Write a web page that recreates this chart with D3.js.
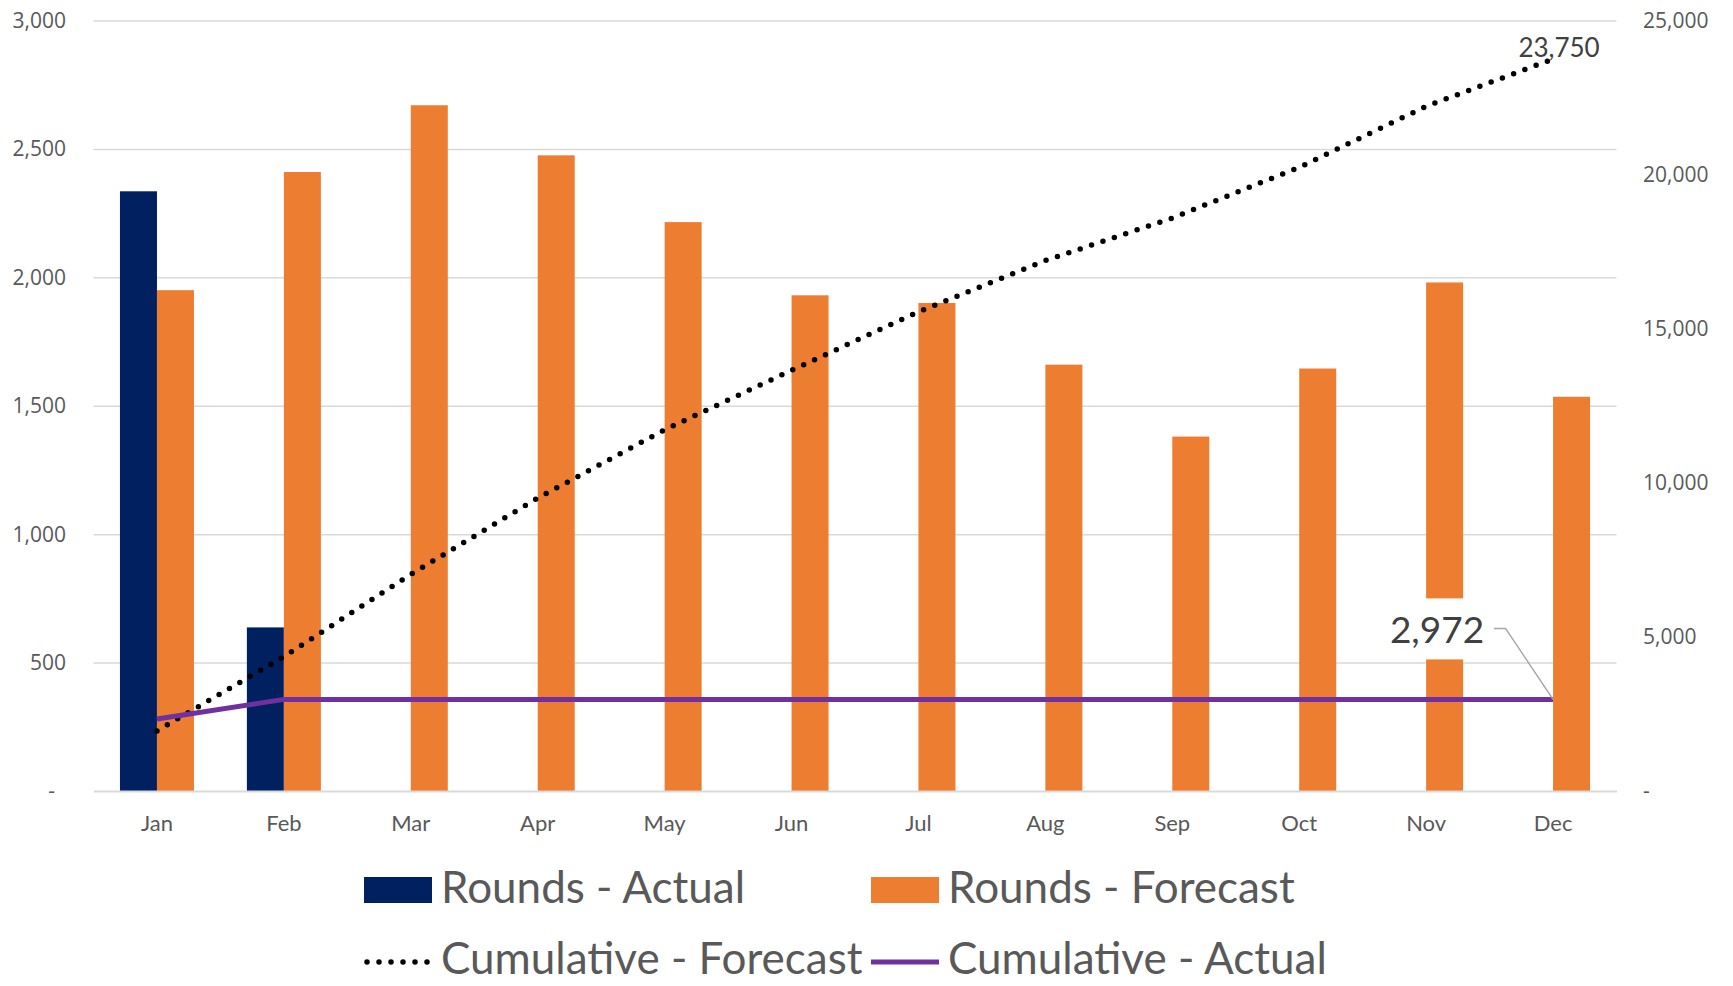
<!DOCTYPE html>
<html>
<head>
<meta charset="utf-8">
<script src="https://cdn.jsdelivr.net/npm/d3@7"></script>
<style>
  html, body { margin: 0; padding: 0; background: #ffffff; }
  svg { display: block; }
</style>
</head>
<body>
<svg id="chart" width="1733" height="986"></svg>
<script>
// Monthly rounds: actual vs forecast, with cumulative totals on the secondary axis
const months = ["Jan", "Feb", "Mar", "Apr", "May", "Jun", "Jul", "Aug", "Sep", "Oct", "Nov", "Dec"];
const roundsActual = [2335, 637, null, null, null, null, null, null, null, null, null, null];
const roundsForecast = [1950, 2410, 2670, 2475, 2215, 1930, 1900, 1660, 1380, 1645, 1980, 1535];
const cumulativeForecast = [1950, 4360, 7030, 9505, 11720, 13650, 15550, 17210, 18590, 20235, 22215, 23750];
const cumulativeActual = [2335, 2972, 2972, 2972, 2972, 2972, 2972, 2972, 2972, 2972, 2972, 2972];
const leftTicks = [0, 500, 1000, 1500, 2000, 2500, 3000];
const rightTicks = [0, 5000, 10000, 15000, 20000, 25000];
const legendItems = ["Rounds - Actual", "Rounds - Forecast", "Cumulative - Forecast", "Cumulative - Actual"];

const colors = {
  actual: "#002060",
  forecast: "#ED7D31",
  cumForecast: "#000000",
  cumActual: "#7030A0",
  grid: "#D9D9D9",
  axisText: "#595959",
  label: "#404040"
};

const plot = { left: 93.5, right: 1616.5, top: 20.5, bottom: 791 };
const svg = d3.select("#chart");

const x = d3.scaleBand().domain(months).range([plot.left, plot.right]).paddingInner(0).paddingOuter(0);
const xSub = d3.scaleBand().domain(["actual", "forecast"]).range([0, x.bandwidth()]).paddingInner(0).paddingOuter(0.715);
const yLeft = d3.scaleLinear().domain([0, 3000]).range([plot.bottom, plot.top]);
const yRight = d3.scaleLinear().domain([0, 25000]).range([plot.bottom, plot.top]);
const xc = m => x(m) + x.bandwidth() / 2;

const fmt = d3.format(",");
const tickFmt = v => v === 0 ? "-" : fmt(v);

// Horizontal gridlines
const grid = svg.append("g")
  .attr("transform", `translate(${plot.left},0)`)
  .call(d3.axisLeft(yLeft).tickValues(leftTicks.filter(v => v !== 0)).tickSize(-(plot.right - plot.left)).tickFormat(""));
grid.select(".domain").remove();
grid.selectAll("line").attr("stroke", colors.grid).attr("stroke-width", 1.5);

// Left axis labels
const axL = svg.append("g")
  .attr("transform", "translate(66,0)")
  .call(d3.axisLeft(yLeft).tickValues(leftTicks).tickSize(0).tickPadding(0).tickFormat(tickFmt));
axL.select(".domain").remove();
axL.selectAll("text")
  .attr("fill", colors.axisText)
  .style("font-family", "'Open Sans', sans-serif")
  .style("font-size", "21px")
  .attr("dy", "0.33em")
  .attr("x", d => d === 0 ? -11 : 0);

// Right axis labels
const axR = svg.append("g")
  .attr("transform", "translate(1643,0)")
  .call(d3.axisRight(yRight).tickValues(rightTicks).tickSize(0).tickPadding(0).tickFormat(tickFmt));
axR.select(".domain").remove();
axR.selectAll("text")
  .attr("fill", colors.axisText)
  .style("font-family", "'Open Sans', sans-serif")
  .style("font-size", "21px")
  .attr("dy", "0.33em");

// Bars
svg.append("g").selectAll("rect")
  .data(months.map((m, i) => ({ m, v: roundsActual[i] })).filter(d => d.v != null))
  .join("rect")
  .attr("x", d => x(d.m) + xSub("actual"))
  .attr("width", xSub.bandwidth())
  .attr("y", d => yLeft(d.v))
  .attr("height", d => yLeft(0) - yLeft(d.v))
  .attr("fill", colors.actual);

svg.append("g").selectAll("rect")
  .data(months.map((m, i) => ({ m, v: roundsForecast[i] })))
  .join("rect")
  .attr("x", d => x(d.m) + xSub("forecast"))
  .attr("width", xSub.bandwidth())
  .attr("y", d => yLeft(d.v))
  .attr("height", d => yLeft(0) - yLeft(d.v))
  .attr("fill", colors.forecast);

// Category axis
const axB = svg.append("g")
  .attr("transform", `translate(0,${plot.bottom})`)
  .call(d3.axisBottom(x).tickSize(0).tickPadding(0));
axB.select(".domain").attr("stroke", colors.grid).attr("stroke-width", 2);
axB.selectAll("text")
  .attr("fill", colors.axisText)
  .attr("y", 40)
  .attr("dy", "0")
  .style("font-family", "Lato, sans-serif")
  .style("font-size", "22px");

// Cumulative lines
const lineR = d3.line().x((d, i) => xc(months[i])).y(d => yRight(d));

svg.append("path")
  .datum(cumulativeForecast)
  .attr("d", lineR)
  .attr("fill", "none")
  .attr("stroke", colors.cumForecast)
  .attr("stroke-width", 5.5)
  .attr("stroke-linecap", "round")
  .attr("stroke-dasharray", "0 12");

svg.append("path")
  .datum(cumulativeActual)
  .attr("d", lineR)
  .attr("fill", "none")
  .attr("stroke", colors.cumActual)
  .attr("stroke-width", 5);

// End labels
const last = months.length - 1;
const fx = xc(months[last]);

svg.append("text")
  .attr("x", fx + 6)
  .attr("y", yRight(cumulativeForecast[last]) - 2)
  .attr("text-anchor", "middle")
  .attr("fill", colors.label)
  .style("font-family", "Lato, sans-serif")
  .style("font-size", "26px")
  .text(fmt(cumulativeForecast[last]));

const ay = yRight(cumulativeActual[last]);
const lab = { cx: fx - 116, baseline: ay - 56 };
svg.append("rect")
  .attr("x", lab.cx - 54)
  .attr("y", ay - 101)
  .attr("width", 110)
  .attr("height", 61)
  .attr("fill", "#ffffff");
svg.append("path")
  .attr("d", `M${fx - 59},${ay - 71}H${fx - 47.5}L${fx},${ay}`)
  .attr("fill", "none")
  .attr("stroke", "#A6A6A6")
  .attr("stroke-width", 1.5);
svg.append("text")
  .attr("x", lab.cx)
  .attr("y", lab.baseline)
  .attr("text-anchor", "middle")
  .attr("fill", colors.label)
  .style("font-family", "Lato, sans-serif")
  .style("font-size", "37px")
  .text(fmt(cumulativeActual[last]));

// Legend
const legendPos = [
  { x: 364, y: 903 }, { x: 871, y: 903 },
  { x: 364, y: 974 }, { x: 871, y: 974 }
];
const legend = svg.append("g");
legendItems.forEach((name, i) => {
  const p = legendPos[i];
  const g = legend.append("g");
  if (i === 0 || i === 1) {
    g.append("rect")
      .attr("x", p.x).attr("y", p.y - 26)
      .attr("width", 68).attr("height", 26)
      .attr("fill", i === 0 ? colors.actual : colors.forecast);
  } else if (i === 2) {
    g.append("line")
      .attr("x1", p.x + 3).attr("x2", p.x + 66)
      .attr("y1", p.y - 12).attr("y2", p.y - 12)
      .attr("stroke", colors.cumForecast).attr("stroke-width", 5.5)
      .attr("stroke-linecap", "round").attr("stroke-dasharray", "0 12");
  } else {
    g.append("line")
      .attr("x1", p.x).attr("x2", p.x + 68)
      .attr("y1", p.y - 12).attr("y2", p.y - 12)
      .attr("stroke", colors.cumActual).attr("stroke-width", 5);
  }
  g.append("text")
    .attr("x", p.x + 77)
    .attr("y", p.y)
    .attr("fill", colors.axisText)
    .style("font-family", "Lato, sans-serif")
    .style("font-size", "44px")
    .text(name);
});
</script>
</body>
</html>
